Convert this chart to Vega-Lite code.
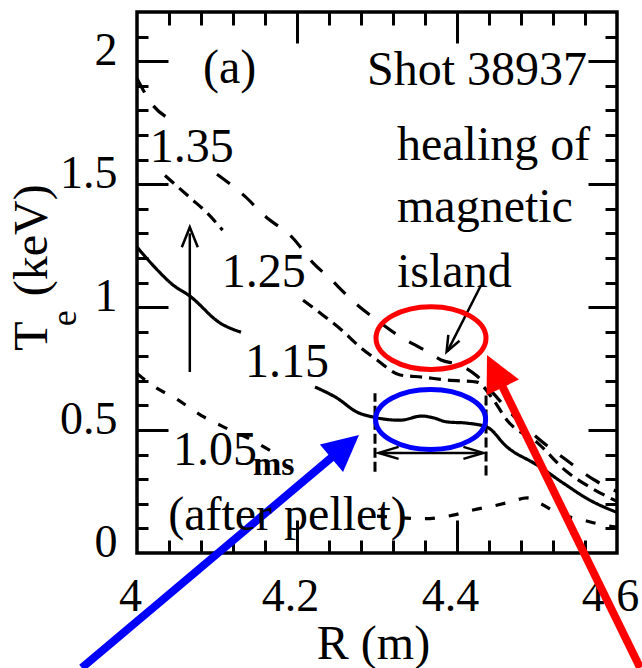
{
  "$schema": "https://vega.github.io/schema/vega-lite/v6.json",
  "width": 480,
  "height": 541,
  "autosize": {"type": "none"},
  "padding": {"left": 137, "top": 12, "right": 25, "bottom": 115},
  "background": "white",
  "config": {
    "view": {"stroke": "black", "strokeWidth": 3.5},
    "axis": {"grid": false, "domain": false, "tickColor": "black", "tickWidth": 3, "labelColor": "black", "titleColor": "black", "labelFont": "Liberation Serif", "titleFont": "Liberation Serif"},
    "text": {"font": "Liberation Serif"}
  },
  "datasets": {
    "profiles": [
      {"s": "1.35", "p": "1.35a", "R": 4.0, "Te": 1.93},
      {"s": "1.35", "p": "1.35a", "R": 4.02, "Te": 1.82},
      {"s": "1.35", "p": "1.35a", "R": 4.038, "Te": 1.77},
      {"s": "1.35", "p": "1.35b", "R": 4.1, "Te": 1.54},
      {"s": "1.35", "p": "1.35b", "R": 4.135, "Te": 1.45},
      {"s": "1.35", "p": "1.35b", "R": 4.16, "Te": 1.37},
      {"s": "1.35", "p": "1.35b", "R": 4.195, "Te": 1.28},
      {"s": "1.35", "p": "1.35b", "R": 4.22, "Te": 1.18},
      {"s": "1.35", "p": "1.35b", "R": 4.24, "Te": 1.12},
      {"s": "1.35", "p": "1.35b", "R": 4.265, "Te": 1.04},
      {"s": "1.35", "p": "1.35b", "R": 4.28, "Te": 0.996},
      {"s": "1.35", "p": "1.35b", "R": 4.3, "Te": 0.947},
      {"s": "1.35", "p": "1.35b", "R": 4.326, "Te": 0.886},
      {"s": "1.35", "p": "1.35b", "R": 4.345, "Te": 0.85},
      {"s": "1.35", "p": "1.35b", "R": 4.364, "Te": 0.817},
      {"s": "1.35", "p": "1.35b", "R": 4.38, "Te": 0.785},
      {"s": "1.35", "p": "1.35b", "R": 4.404, "Te": 0.764},
      {"s": "1.35", "p": "1.35b", "R": 4.425, "Te": 0.72},
      {"s": "1.35", "p": "1.35b", "R": 4.445, "Te": 0.65},
      {"s": "1.35", "p": "1.35b", "R": 4.47, "Te": 0.56},
      {"s": "1.35", "p": "1.35b", "R": 4.5, "Te": 0.47},
      {"s": "1.35", "p": "1.35b", "R": 4.54, "Te": 0.37},
      {"s": "1.35", "p": "1.35b", "R": 4.57, "Te": 0.3},
      {"s": "1.35", "p": "1.35b", "R": 4.6, "Te": 0.25},
      {"s": "1.25", "p": "1.25a", "R": 4.035, "Te": 1.535},
      {"s": "1.25", "p": "1.25a", "R": 4.067, "Te": 1.443},
      {"s": "1.25", "p": "1.25a", "R": 4.088, "Te": 1.382},
      {"s": "1.25", "p": "1.25a", "R": 4.107, "Te": 1.313},
      {"s": "1.25", "p": "1.25b", "R": 4.2075, "Te": 1.028},
      {"s": "1.25", "p": "1.25b", "R": 4.2325, "Te": 0.967},
      {"s": "1.25", "p": "1.25b", "R": 4.256, "Te": 0.906},
      {"s": "1.25", "p": "1.25b", "R": 4.279, "Te": 0.837},
      {"s": "1.25", "p": "1.25b", "R": 4.3, "Te": 0.785},
      {"s": "1.25", "p": "1.25b", "R": 4.329, "Te": 0.724},
      {"s": "1.25", "p": "1.25b", "R": 4.3575, "Te": 0.715},
      {"s": "1.25", "p": "1.25b", "R": 4.3875, "Te": 0.703},
      {"s": "1.25", "p": "1.25b", "R": 4.425, "Te": 0.695},
      {"s": "1.25", "p": "1.25b", "R": 4.445, "Te": 0.625},
      {"s": "1.25", "p": "1.25b", "R": 4.4625, "Te": 0.54},
      {"s": "1.25", "p": "1.25b", "R": 4.5, "Te": 0.45},
      {"s": "1.25", "p": "1.25b", "R": 4.5375, "Te": 0.33},
      {"s": "1.25", "p": "1.25b", "R": 4.566, "Te": 0.268},
      {"s": "1.25", "p": "1.25b", "R": 4.6, "Te": 0.21},
      {"s": "1.15", "p": "1.15a", "R": 4.0, "Te": 1.244},
      {"s": "1.15", "p": "1.15a", "R": 4.02, "Te": 1.17},
      {"s": "1.15", "p": "1.15a", "R": 4.045, "Te": 1.09},
      {"s": "1.15", "p": "1.15a", "R": 4.066, "Te": 1.045},
      {"s": "1.15", "p": "1.15a", "R": 4.104, "Te": 0.935},
      {"s": "1.15", "p": "1.15a", "R": 4.13, "Te": 0.898},
      {"s": "1.15", "p": "1.15b", "R": 4.2225, "Te": 0.675},
      {"s": "1.15", "p": "1.15b", "R": 4.25, "Te": 0.63},
      {"s": "1.15", "p": "1.15b", "R": 4.275, "Te": 0.573},
      {"s": "1.15", "p": "1.15b", "R": 4.295, "Te": 0.553},
      {"s": "1.15", "p": "1.15b", "R": 4.329, "Te": 0.54},
      {"s": "1.15", "p": "1.15b", "R": 4.356, "Te": 0.557},
      {"s": "1.15", "p": "1.15b", "R": 4.37, "Te": 0.55},
      {"s": "1.15", "p": "1.15b", "R": 4.3875, "Te": 0.533},
      {"s": "1.15", "p": "1.15b", "R": 4.4125, "Te": 0.528},
      {"s": "1.15", "p": "1.15b", "R": 4.4375, "Te": 0.512},
      {"s": "1.15", "p": "1.15b", "R": 4.4625, "Te": 0.431},
      {"s": "1.15", "p": "1.15b", "R": 4.5, "Te": 0.358},
      {"s": "1.15", "p": "1.15b", "R": 4.5325, "Te": 0.285},
      {"s": "1.15", "p": "1.15b", "R": 4.566, "Te": 0.215},
      {"s": "1.15", "p": "1.15b", "R": 4.6, "Te": 0.165},
      {"s": "1.05", "p": "1.05a", "R": 4.0, "Te": 0.73},
      {"s": "1.05", "p": "1.05a", "R": 4.02, "Te": 0.68},
      {"s": "1.05", "p": "1.05a", "R": 4.05, "Te": 0.625},
      {"s": "1.05", "p": "1.05a", "R": 4.08, "Te": 0.56},
      {"s": "1.05", "p": "1.05a", "R": 4.11, "Te": 0.51},
      {"s": "1.05", "p": "1.05a", "R": 4.14, "Te": 0.465},
      {"s": "1.05", "p": "1.05a", "R": 4.17, "Te": 0.41},
      {"s": "1.05", "p": "1.05b", "R": 4.3, "Te": 0.15},
      {"s": "1.05", "p": "1.05b", "R": 4.36, "Te": 0.14},
      {"s": "1.05", "p": "1.05b", "R": 4.395, "Te": 0.154},
      {"s": "1.05", "p": "1.05b", "R": 4.42, "Te": 0.175},
      {"s": "1.05", "p": "1.05b", "R": 4.445, "Te": 0.191},
      {"s": "1.05", "p": "1.05b", "R": 4.466, "Te": 0.207},
      {"s": "1.05", "p": "1.05b", "R": 4.4875, "Te": 0.224},
      {"s": "1.05", "p": "1.05b", "R": 4.505, "Te": 0.2},
      {"s": "1.05", "p": "1.05b", "R": 4.525, "Te": 0.163},
      {"s": "1.05", "p": "1.05b", "R": 4.5575, "Te": 0.134},
      {"s": "1.05", "p": "1.05b", "R": 4.5825, "Te": 0.114},
      {"s": "1.05", "p": "1.05b", "R": 4.6, "Te": 0.105}
    ]
  },
  "resolve": {"axis": {"x": "independent", "y": "independent"}},
  "layer": [
    {
      "data": {"name": "profiles"},
      "mark": {"type": "line", "color": "black", "strokeWidth": 3.2, "interpolate": "monotone"},
      "encoding": {
        "x": {"field": "R", "type": "quantitative", "scale": {"domain": [4, 4.6], "nice": false, "zero": false},
          "axis": {"orient": "bottom", "ticks": false, "labels": true, "values": [4, 4.2, 4.4, 4.6], "format": "~g",
            "labelFont": "Liberation Serif", "labelFontSize": 46, "labelPadding": 57, "labelBaseline": "alphabetic", "labelOffset": -7,
            "labelFlush": false, "labelOverlap": false, "labelBound": false,
            "title": "R (m)", "titleFont": "Liberation Serif", "titleFontSize": 48, "titleFontWeight": "normal",
            "titleX": 236, "titleY": 105, "titleBaseline": "alphabetic", "titleAlign": "center", "titleAngle": 0}},
        "y": {"field": "Te", "type": "quantitative", "scale": {"domain": [0, 2.2], "nice": false, "zero": false},
          "axis": {"orient": "left", "ticks": false, "labels": true, "values": [0, 0.5, 1, 1.5, 2], "format": "~g",
            "labelFont": "Liberation Serif", "labelFontSize": 46, "labelPadding": 20, "labelAlign": "right", "labelBaseline": "alphabetic", "labelOffset": 3.5,
            "labelFlush": false, "labelOverlap": false, "labelBound": false, "title": null}},
        "detail": {"field": "p"},
        "strokeDash": {"field": "s", "type": "nominal", "legend": null,
          "scale": {"domain": ["1.05", "1.15", "1.25", "1.35"], "range": [[10, 14], [1, 0], [12, 7], [16, 16]]}}
      }
    },
    {
      "data": {"values": [{"R": 4.2975, "Te": 0.33, "R2": 4.2975, "Te2": 0.65}, {"R": 4.4363, "Te": 0.315, "R2": 4.4363, "Te2": 0.64}]},
      "mark": {"type": "rule", "color": "black", "strokeWidth": 3, "strokeDash": [10, 4]},
      "encoding": {
        "x": {"field": "R", "type": "quantitative", "scale": {"domain": [4, 4.6], "nice": false, "zero": false},
          "axis": {"orient": "top", "labels": false, "ticks": true, "tickSize": -31, "values": [4.2, 4.4], "title": null}},
        "x2": {"field": "R2"},
        "y": {"field": "Te", "type": "quantitative", "scale": {"domain": [0, 2.2], "nice": false, "zero": false},
          "axis": {"orient": "right", "labels": false, "ticks": true, "tickSize": -29, "values": [0.5, 1, 1.5, 2], "title": null}},
        "y2": {"field": "Te2"}
      }
    },
    {
      "data": {"values": [{"R": 3.931, "Te": -0.467, "R2": 4.25, "Te2": 0.407}]},
      "mark": {"type": "rule", "color": "#0000ff", "strokeWidth": 8},
      "encoding": {
        "x": {"field": "R", "type": "quantitative", "scale": {"domain": [4, 4.6], "nice": false, "zero": false},
          "axis": {"orient": "top", "labels": false, "ticks": true, "tickSize": -13, "values": [4.04, 4.08, 4.12, 4.16, 4.24, 4.28, 4.32, 4.36, 4.44, 4.48, 4.52, 4.56], "title": null}},
        "x2": {"field": "R2"},
        "y": {"field": "Te", "type": "quantitative", "scale": {"domain": [0, 2.2], "nice": false, "zero": false},
          "axis": {"orient": "right", "labels": false, "ticks": true, "tickSize": -12, "values": [0.1, 0.2, 0.3, 0.4, 0.6, 0.7, 0.8, 0.9, 1.1, 1.2, 1.3, 1.4, 1.6, 1.7, 1.8, 1.9, 2.1], "title": null}},
        "y2": {"field": "Te2"}
      }
    },
    {
      "data": {"values": [{"R": 4.629, "Te": -0.467, "R2": 4.4529, "Te2": 0.703}]},
      "mark": {"type": "rule", "color": "#ff0000", "strokeWidth": 8},
      "encoding": {
        "x": {"field": "R", "type": "quantitative", "scale": {"domain": [4, 4.6], "nice": false, "zero": false},
          "axis": {"orient": "bottom", "labels": false, "ticks": true, "tickSize": -33, "values": [4.2, 4.4], "title": null}},
        "x2": {"field": "R2"},
        "y": {"field": "Te", "type": "quantitative", "scale": {"domain": [0, 2.2], "nice": false, "zero": false},
          "axis": {"orient": "left", "labels": false, "ticks": true, "tickSize": -31, "values": [0.5, 1, 1.5, 2], "title": null}},
        "y2": {"field": "Te2"}
      }
    },
    {
      "data": {"values": [
        {"R": 4.066, "Te": 0.736, "R2": 4.066, "Te2": 1.3},
        {"R": 4.43, "Te": 1.089, "R2": 4.388, "Te2": 0.82},
        {"R": 4.304, "Te": 0.407, "R2": 4.431, "Te2": 0.407}
      ]},
      "mark": {"type": "rule", "color": "black", "strokeWidth": 2.5},
      "encoding": {
        "x": {"field": "R", "type": "quantitative", "scale": {"domain": [4, 4.6], "nice": false, "zero": false},
          "axis": {"orient": "bottom", "labels": false, "ticks": true, "tickSize": -13, "values": [4.04, 4.08, 4.12, 4.16, 4.24, 4.28, 4.32, 4.36, 4.44, 4.48, 4.52, 4.56], "title": null}},
        "x2": {"field": "R2"},
        "y": {"field": "Te", "type": "quantitative", "scale": {"domain": [0, 2.2], "nice": false, "zero": false},
          "axis": {"orient": "left", "labels": false, "ticks": true, "tickSize": -11, "values": [0.1, 0.2, 0.3, 0.4, 0.6, 0.7, 0.8, 0.9, 1.1, 1.2, 1.3, 1.4, 1.6, 1.7, 1.8, 1.9, 2.1], "title": null}},
        "y2": {"field": "Te2"}
      }
    },
    {
      "data": {"values": [{"R": 4.367, "Te": 0.543}]},
      "mark": {"type": "point", "shape": "M-1,0A1,0.545 0 1,1 1,0A1,0.545 0 1,1 -1,0Z", "size": 12100, "filled": false, "color": "#0000ff", "strokeWidth": 5, "opacity": 1},
      "encoding": {
        "x": {"field": "R", "type": "quantitative", "axis": null, "scale": {"domain": [4, 4.6], "nice": false, "zero": false}},
        "y": {"field": "Te", "type": "quantitative", "axis": null, "scale": {"domain": [0, 2.2], "nice": false, "zero": false}}
      }
    },
    {
      "data": {"values": [{"R": 4.3675, "Te": 0.874}]},
      "mark": {"type": "point", "shape": "M-1,0A1,0.57 0 1,1 1,0A1,0.57 0 1,1 -1,0Z", "size": 12100, "filled": false, "color": "#ff0000", "strokeWidth": 5, "opacity": 1},
      "encoding": {
        "x": {"field": "R", "type": "quantitative", "axis": null, "scale": {"domain": [4, 4.6], "nice": false, "zero": false}},
        "y": {"field": "Te", "type": "quantitative", "axis": null, "scale": {"domain": [0, 2.2], "nice": false, "zero": false}}
      }
    },
    {
      "data": {"values": [{"R": 4.2775, "Te": 0.48}]},
      "mark": {"type": "point", "shape": "M0,0L-0.5,1L0.5,1Z", "size": 5184, "filled": true, "color": "#0000ff", "strokeWidth": 0, "opacity": 1, "angle": 49.9},
      "encoding": {
        "x": {"field": "R", "type": "quantitative", "axis": null, "scale": {"domain": [4, 4.6], "nice": false, "zero": false}},
        "y": {"field": "Te", "type": "quantitative", "axis": null, "scale": {"domain": [0, 2.2], "nice": false, "zero": false}}
      }
    },
    {
      "data": {"values": [{"R": 4.4375, "Te": 0.805}]},
      "mark": {"type": "point", "shape": "M0,0L-0.5,1L0.5,1Z", "size": 5184, "filled": true, "color": "#ff0000", "strokeWidth": 0, "opacity": 1, "angle": 334},
      "encoding": {
        "x": {"field": "R", "type": "quantitative", "axis": null, "scale": {"domain": [4, 4.6], "nice": false, "zero": false}},
        "y": {"field": "Te", "type": "quantitative", "axis": null, "scale": {"domain": [0, 2.2], "nice": false, "zero": false}}
      }
    },
    {
      "data": {"values": [{"R": 4.066, "Te": 1.325}]},
      "mark": {"type": "point", "shape": "M-0.4,1L0,0L0.4,1", "size": 1600, "filled": false, "color": "black", "strokeWidth": 2.5, "opacity": 1, "angle": 0},
      "encoding": {
        "x": {"field": "R", "type": "quantitative", "axis": null, "scale": {"domain": [4, 4.6], "nice": false, "zero": false}},
        "y": {"field": "Te", "type": "quantitative", "axis": null, "scale": {"domain": [0, 2.2], "nice": false, "zero": false}}
      }
    },
    {
      "data": {"values": [{"R": 4.387, "Te": 0.818}]},
      "mark": {"type": "point", "shape": "M-0.4,1L0,0L0.4,1", "size": 1000, "filled": false, "color": "black", "strokeWidth": 2.5, "opacity": 1, "angle": 207.6},
      "encoding": {
        "x": {"field": "R", "type": "quantitative", "axis": null, "scale": {"domain": [4, 4.6], "nice": false, "zero": false}},
        "y": {"field": "Te", "type": "quantitative", "axis": null, "scale": {"domain": [0, 2.2], "nice": false, "zero": false}}
      }
    },
    {
      "data": {"values": [{"R": 4.302, "Te": 0.407}]},
      "mark": {"type": "point", "shape": "M-0.3,1L0,0L0.3,1", "size": 1600, "filled": false, "color": "black", "strokeWidth": 2.5, "opacity": 1, "angle": 270},
      "encoding": {
        "x": {"field": "R", "type": "quantitative", "axis": null, "scale": {"domain": [4, 4.6], "nice": false, "zero": false}},
        "y": {"field": "Te", "type": "quantitative", "axis": null, "scale": {"domain": [0, 2.2], "nice": false, "zero": false}}
      }
    },
    {
      "data": {"values": [{"R": 4.433, "Te": 0.407}]},
      "mark": {"type": "point", "shape": "M-0.3,1L0,0L0.3,1", "size": 1600, "filled": false, "color": "black", "strokeWidth": 2.5, "opacity": 1, "angle": 90},
      "encoding": {
        "x": {"field": "R", "type": "quantitative", "axis": null, "scale": {"domain": [4, 4.6], "nice": false, "zero": false}},
        "y": {"field": "Te", "type": "quantitative", "axis": null, "scale": {"domain": [0, 2.2], "nice": false, "zero": false}}
      }
    },
    {
      "data": {"values": [
        {"t": "(a)", "R": 4.0825, "Te": 1.91},
        {"t": "Shot 38937", "R": 4.2875, "Te": 1.902},
        {"t": "healing of", "R": 4.325, "Te": 1.598},
        {"t": "magnetic", "R": 4.325, "Te": 1.346},
        {"t": "island", "R": 4.325, "Te": 1.081},
        {"t": "1.35", "R": 4.016, "Te": 1.589},
        {"t": "1.25", "R": 4.106, "Te": 1.081},
        {"t": "1.15", "R": 4.135, "Te": 0.715},
        {"t": "1.05", "R": 4.045, "Te": 0.358},
        {"t": "(after pellet)", "R": 4.039, "Te": 0.0935}
      ]},
      "mark": {"type": "text", "font": "Liberation Serif", "fontSize": 48, "align": "left", "baseline": "alphabetic"},
      "encoding": {
        "x": {"field": "R", "type": "quantitative", "axis": null, "scale": {"domain": [4, 4.6], "nice": false, "zero": false}},
        "y": {"field": "Te", "type": "quantitative", "axis": null, "scale": {"domain": [0, 2.2], "nice": false, "zero": false}},
        "text": {"field": "t"}
      }
    },
    {
      "data": {"values": [{"t": "ms", "R": 4.145, "Te": 0.317}]},
      "mark": {"type": "text", "font": "Liberation Serif", "fontSize": 34, "fontWeight": "bold", "align": "left", "baseline": "alphabetic"},
      "encoding": {
        "x": {"field": "R", "type": "quantitative", "axis": null, "scale": {"domain": [4, 4.6], "nice": false, "zero": false}},
        "y": {"field": "Te", "type": "quantitative", "axis": null, "scale": {"domain": [0, 2.2], "nice": false, "zero": false}},
        "text": {"field": "t"}
      }
    },
    {
      "data": {"values": [{"t": "T", "R": 3.8875, "Te": 0.882}, {"t": "(keV)", "R": 3.8875, "Te": 1.272}]},
      "mark": {"type": "text", "font": "Liberation Serif", "fontSize": 48, "align": "center", "baseline": "alphabetic", "angle": 270},
      "encoding": {
        "x": {"field": "R", "type": "quantitative", "axis": null, "scale": {"domain": [4, 4.6], "nice": false, "zero": false}},
        "y": {"field": "Te", "type": "quantitative", "axis": null, "scale": {"domain": [0, 2.2], "nice": false, "zero": false}},
        "text": {"field": "t"}
      }
    },
    {
      "data": {"values": [{"t": "e", "R": 3.924, "Te": 0.955}]},
      "mark": {"type": "text", "font": "Liberation Serif", "fontSize": 36, "align": "center", "baseline": "alphabetic", "angle": 270},
      "encoding": {
        "x": {"field": "R", "type": "quantitative", "axis": null, "scale": {"domain": [4, 4.6], "nice": false, "zero": false}},
        "y": {"field": "Te", "type": "quantitative", "axis": null, "scale": {"domain": [0, 2.2], "nice": false, "zero": false}},
        "text": {"field": "t"}
      }
    }
  ]
}
